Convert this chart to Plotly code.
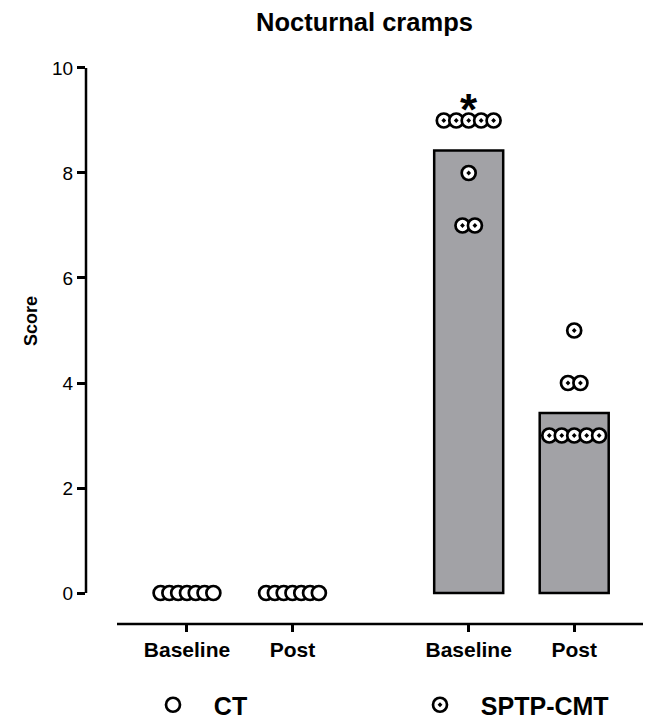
import plotly.graph_objects as go

# ---- data ----
categories = ["Baseline", "Post", "Baseline", "Post"]
ct_baseline = [0, 0, 0, 0, 0, 0, 0]
ct_post = [0, 0, 0, 0, 0, 0, 0]
sptp_baseline = [9, 9, 9, 9, 9, 8, 7, 7]
sptp_post = [5, 4, 4, 3, 3, 3, 3, 3]
ct_means = [0, 0]
sptp_means = [8.43, 3.43]
y_ticks = [0, 2, 4, 6, 8, 10]

# ---- layout positions (category slots) ----
slots = [0, 1, 2.67, 3.67]
BAR_W = 0.654
SPACING = 0.118
MAX_HALF = 0.25

FONT = "Liberation Sans, Arial, sans-serif"

# the page body adds an 8px offset, so figure px = reference px - 8
W, H = 643, 713
L, T, R, B = 78, 50, 8, 97
PW, PH = W - L - R, H - T - B


def swarm(values, center):
    """Spread points that share the same value symmetrically around the slot."""
    xs = [None] * len(values)
    groups = {}
    for i, v in enumerate(values):
        groups.setdefault(v, []).append(i)
    for v, idx in groups.items():
        n = len(idx)
        sp = SPACING if n <= 1 else min(SPACING, 2 * MAX_HALF / (n - 1))
        for k, i in enumerate(idx):
            xs[i] = center + (k - (n - 1) / 2) * sp
    return xs


fig = go.Figure()

# bars
fig.add_trace(go.Bar(x=slots[:2], y=ct_means, width=BAR_W,
                     marker=dict(color="#a2a2a6", line=dict(width=0)),
                     showlegend=False, hoverinfo="skip"))
fig.add_trace(go.Bar(x=slots[2:], y=sptp_means, width=BAR_W,
                     marker=dict(color="#a2a2a6", line=dict(color="black", width=2.5)),
                     showlegend=False, hoverinfo="skip"))

NB = "\u00a0" * 3

# CT points
ct_x = swarm(ct_baseline, slots[0]) + swarm(ct_post, slots[1])
ct_y = ct_baseline + ct_post
fig.add_trace(go.Scatter(x=ct_x, y=ct_y, mode="markers", name=NB + "CT", legend="legend",
                         marker=dict(symbol="circle", size=14, color="white",
                                     line=dict(color="black", width=2.7)),
                         cliponaxis=False))

# SPTP-CMT points
sp_x = swarm(sptp_baseline, slots[2]) + swarm(sptp_post, slots[3])
sp_y = sptp_baseline + sptp_post
fig.add_trace(go.Scatter(x=sp_x, y=sp_y, mode="markers", name=NB + "SPTP-CMT", legend="legend2",
                         marker=dict(symbol="circle-dot", size=14, color="white",
                                     line=dict(color="black", width=2.7)),
                         cliponaxis=False))

LEG_FONT = dict(size=25, family=FONT, weight="bold")
LEG_Y = -((705 - 8) - (H - B)) / PH

fig.update_layout(
    width=W, height=H,
    margin=dict(l=L, r=R, t=T, b=B, autoexpand=False),
    paper_bgcolor="white", plot_bgcolor="white",
    font=dict(family=FONT, color="black"),
    barmode="overlay",
    title=dict(text="<b>Nocturnal cramps</b>", x=0.5, xref="paper", xanchor="center",
               y=1 - 14 / H, yref="container", yanchor="middle",
               font=dict(size=25.5, family=FONT)),
    xaxis=dict(range=[-0.957, 4.322], tickmode="array", tickvals=slots,
               ticktext=["<b>%s</b>" % c for c in categories],
               ticks="outside", ticklen=7, tickwidth=2.5, tickcolor="black",
               showline=False, showgrid=False, zeroline=False,
               tickfont=dict(size=21, family=FONT)),
    yaxis=dict(range=[-0.59, 10.19], tickmode="array", tickvals=y_ticks,
               ticks="outside", ticklen=8, tickwidth=2.5, tickcolor="black",
               showline=False, showgrid=False, zeroline=False,
               tickfont=dict(size=19, family=FONT)),
    legend=dict(orientation="h", x=(153 - 8 - L) / PW, xanchor="left",
                y=LEG_Y, yanchor="middle", font=LEG_FONT,
                bgcolor="rgba(0,0,0,0)"),
    legend2=dict(orientation="h", x=(420 - 8 - L) / PW, xanchor="left",
                 y=LEG_Y, yanchor="middle", font=LEG_FONT,
                 bgcolor="rgba(0,0,0,0)"),
    shapes=[
        dict(type="line", xref="paper", yref="y", x0=0, x1=0, y0=0, y1=10,
             line=dict(color="black", width=2.5), layer="above"),
        dict(type="line", xref="paper", yref="paper", x0=(117 - 8 - L) / PW, x1=1, y0=0, y1=0,
             line=dict(color="black", width=2.5), layer="above"),
    ],
    annotations=[
        dict(text="<b>*</b>", x=slots[2], y=9.33, xref="x", yref="y",
             showarrow=False, font=dict(size=44, family=FONT), yanchor="middle", yshift=-6),
        dict(text="<b>Score</b>", textangle=-90, xref="paper", yref="paper",
             x=(31 - 8 - L) / PW, y=((H - B) - (321 - 8)) / PH,
             xanchor="center", yanchor="middle", showarrow=False,
             font=dict(size=18, family=FONT)),
    ],
)

fig.write_html("out.html")
